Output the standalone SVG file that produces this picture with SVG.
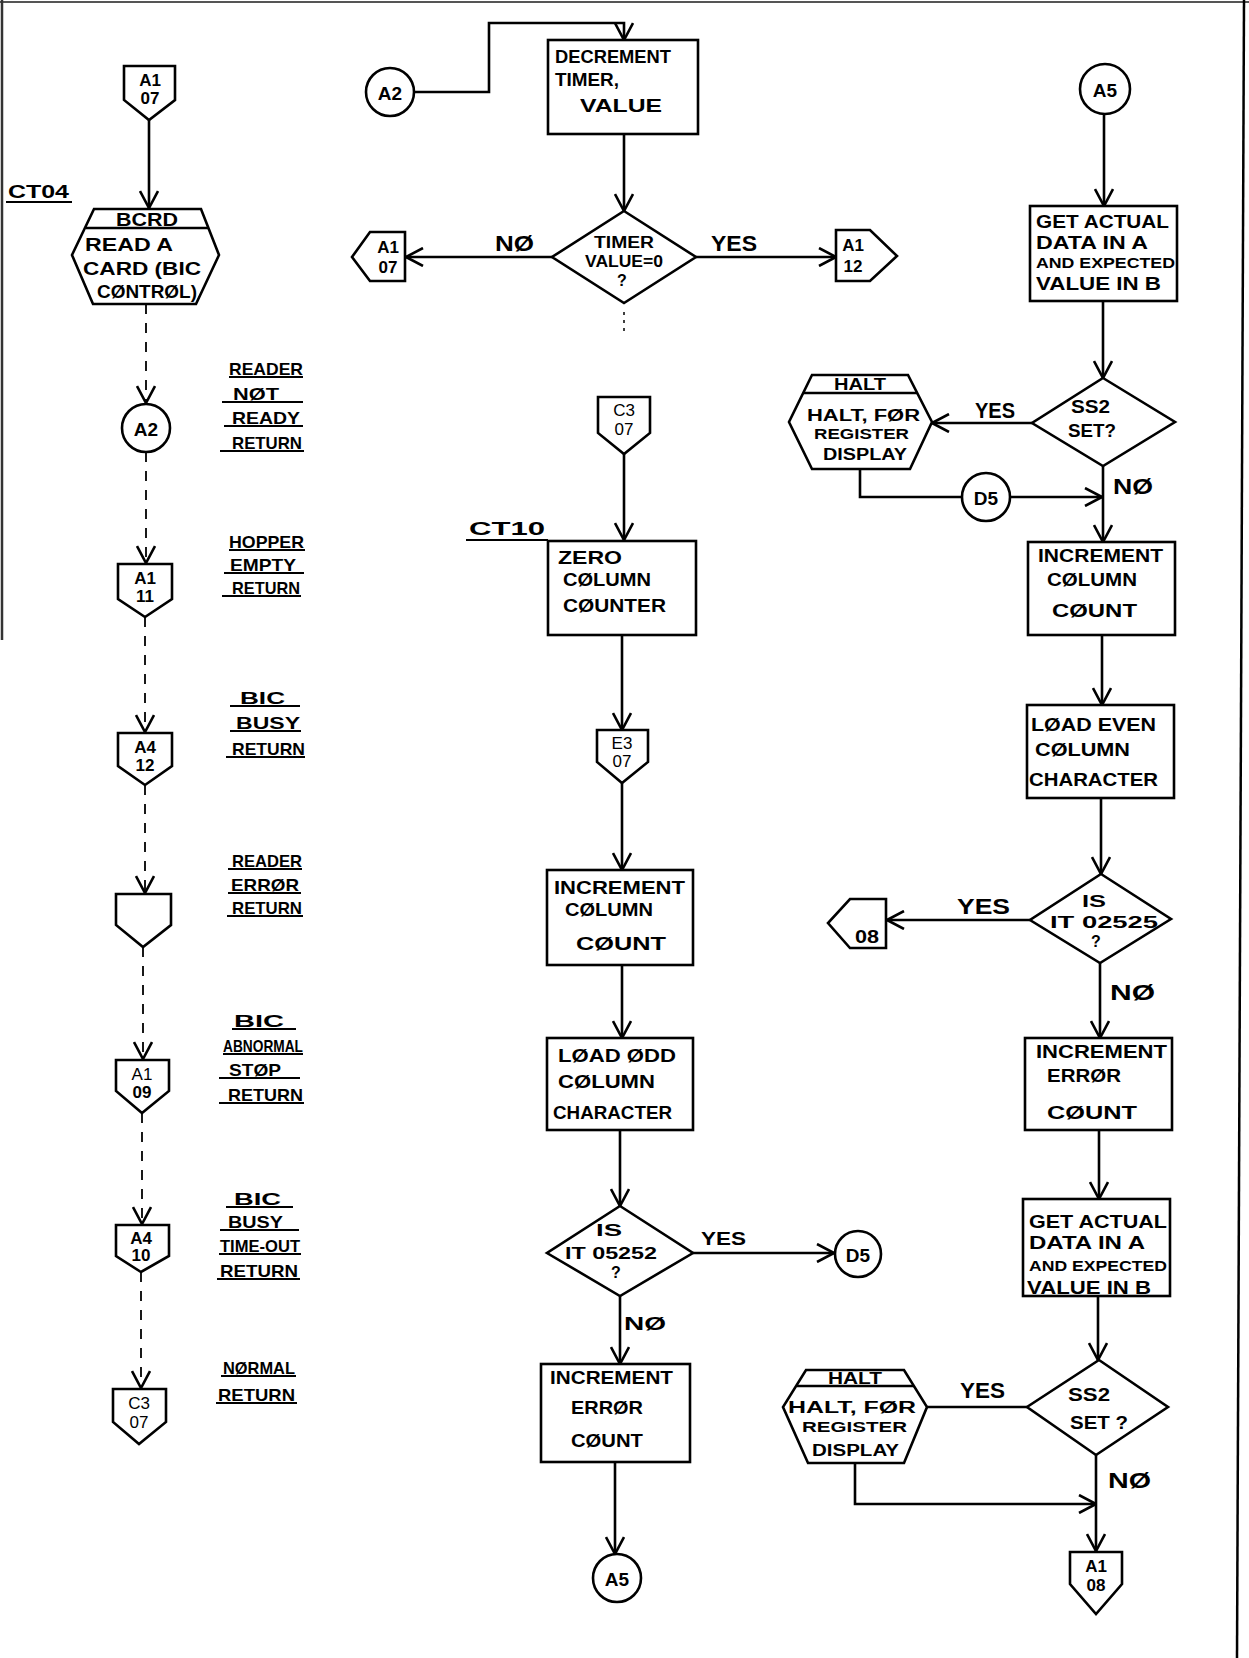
<svg xmlns="http://www.w3.org/2000/svg" width="1249" height="1658" viewBox="0 0 1249 1658">
<style>
.ln{stroke:#000;stroke-width:2.6;fill:none}
.dl{stroke:#000;stroke-width:1.8;fill:none;stroke-dasharray:10 9}
.sh{stroke:#000;stroke-width:2.6;fill:#fff}
.ul{stroke:#000;stroke-width:2;fill:none}
.t{font-family:"Liberation Sans",Arial,sans-serif;font-weight:bold;font-size:19px;fill:#000}
.m{text-anchor:middle}
.sm{font-size:14px}
.md{font-size:16px}
.lb{font-size:17px}
.big{font-size:22px}
.pc{font-size:17px}
.nw{font-weight:normal}
</style>
<defs>
<marker id="ah" markerUnits="userSpaceOnUse" viewBox="0 0 20 20" markerWidth="20" markerHeight="20" refX="19" refY="10" orient="auto">
<path d="M2,1 L19,10 L2,19" fill="none" stroke="#000" stroke-width="2.6" stroke-dasharray="none"/>
</marker>
</defs>
<rect width="1249" height="1658" fill="#fff"/>
<g id="border">
<path d="M0,2 H1249" stroke="#555" stroke-width="2" fill="none"/>
<path d="M2,0 V640" stroke="#333" stroke-width="2.5" fill="none"/>
<path d="M1244,0 L1237,1658" stroke="#000" stroke-width="2.5" fill="none"/>
</g>

<g id="connectors">
<path class="ln" d="M149,120 V208" marker-end="url(#ah)"/>
<path class="dl" d="M146,304 V403" marker-end="url(#ah)"/>
<path class="dl" d="M146,452 V563" marker-end="url(#ah)"/>
<path class="dl" d="M145,617 V732" marker-end="url(#ah)"/>
<path class="dl" d="M145,785 V893" marker-end="url(#ah)"/>
<path class="dl" d="M143,947 V1059" marker-end="url(#ah)"/>
<path class="dl" d="M142,1113 V1224" marker-end="url(#ah)"/>
<path class="dl" d="M141,1272 V1388" marker-end="url(#ah)"/>

<path class="ln" d="M414,92 H489 V23 H624 V40" marker-end="url(#ah)"/>
<path class="ln" d="M624,134 V211" marker-end="url(#ah)"/>
<path class="ln" d="M552,257 H406" marker-end="url(#ah)"/>
<path class="ln" d="M696,257 H836" marker-end="url(#ah)"/>
<path d="M624,312 V336" stroke="#000" stroke-width="1.5" stroke-dasharray="3 5" fill="none"/>
<path class="ln" d="M624,454 V540" marker-end="url(#ah)"/>
<path class="ln" d="M622,635 V730" marker-end="url(#ah)"/>
<path class="ln" d="M622,783 V870" marker-end="url(#ah)"/>
<path class="ln" d="M622,965 V1038" marker-end="url(#ah)"/>
<path class="ln" d="M620,1130 V1206" marker-end="url(#ah)"/>
<path class="ln" d="M693,1253 H834" marker-end="url(#ah)"/>
<path class="ln" d="M620,1296 V1364" marker-end="url(#ah)"/>
<path class="ln" d="M615,1462 V1554" marker-end="url(#ah)"/>

<path class="ln" d="M1104,114 V206" marker-end="url(#ah)"/>
<path class="ln" d="M1103,301 V378" marker-end="url(#ah)"/>
<path class="ln" d="M1032,423 H932" marker-end="url(#ah)"/>
<path class="ln" d="M860,469 V497 H962"/>
<path class="ln" d="M1010,497 H1102" marker-end="url(#ah)"/>
<path class="ln" d="M1103,466 V542" marker-end="url(#ah)"/>
<path class="ln" d="M1102,635 V705" marker-end="url(#ah)"/>
<path class="ln" d="M1101,798 V874" marker-end="url(#ah)"/>
<path class="ln" d="M1030,920 H887" marker-end="url(#ah)"/>
<path class="ln" d="M1100,963 V1038" marker-end="url(#ah)"/>
<path class="ln" d="M1099,1130 V1199" marker-end="url(#ah)"/>
<path class="ln" d="M1098,1296 V1360" marker-end="url(#ah)"/>
<path class="ln" d="M1027,1407 H927"/>
<path class="ln" d="M855,1463 V1504 H1096" marker-end="url(#ah)"/>
<path class="ln" d="M1096,1455 V1551" marker-end="url(#ah)"/>
</g>

<g id="labels">
<text class="t" x="8" y="198" textLength="61" lengthAdjust="spacingAndGlyphs">CT04</text>
<path class="ul" d="M6,202 H72"/>
<text class="t" x="469" y="535" textLength="76" lengthAdjust="spacingAndGlyphs">CT10</text>
<path class="ul" d="M466,540 H548"/>
<text class="t big" x="495" y="251" textLength="39" lengthAdjust="spacingAndGlyphs">NØ</text>
<text class="t big" x="711" y="251" textLength="46" lengthAdjust="spacingAndGlyphs">YES</text>
<text class="t big" x="975" y="418" textLength="40" lengthAdjust="spacingAndGlyphs">YES</text>
<text class="t big" x="1113" y="494" textLength="40" lengthAdjust="spacingAndGlyphs">NØ</text>
<text class="t big" x="957" y="914" textLength="53" lengthAdjust="spacingAndGlyphs">YES</text>
<text class="t big" x="1110" y="1000" textLength="45" lengthAdjust="spacingAndGlyphs">NØ</text>
<text class="t" x="701" y="1245" textLength="45" lengthAdjust="spacingAndGlyphs">YES</text>
<text class="t" x="624" y="1330" textLength="42" lengthAdjust="spacingAndGlyphs">NØ</text>
<text class="t big" x="960" y="1398" textLength="45" lengthAdjust="spacingAndGlyphs">YES</text>
<text class="t big" x="1108" y="1488" textLength="43" lengthAdjust="spacingAndGlyphs">NØ</text>
</g>

<g id="returns">
<text class="t lb" x="229" y="375" textLength="74" lengthAdjust="spacingAndGlyphs">READER</text>
<text class="t lb" x="233" y="400" textLength="46" lengthAdjust="spacingAndGlyphs">NØT</text>
<text class="t lb" x="232" y="424" textLength="68" lengthAdjust="spacingAndGlyphs">READY</text>
<text class="t lb" x="232" y="449" textLength="70" lengthAdjust="spacingAndGlyphs">RETURN</text>
<path class="ul" d="M229,377 H303 M222,402 H303 M224,426 H303 M220,451 H304"/>

<text class="t lb" x="229" y="548" textLength="75" lengthAdjust="spacingAndGlyphs">HOPPER</text>
<text class="t lb" x="230" y="571" textLength="66" lengthAdjust="spacingAndGlyphs">EMPTY</text>
<text class="t lb" x="232" y="594" textLength="68" lengthAdjust="spacingAndGlyphs">RETURN</text>
<path class="ul" d="M229,550 H305 M224,573 H304 M222,596 H301"/>

<text class="t lb" x="240" y="704" textLength="45" lengthAdjust="spacingAndGlyphs">BIC</text>
<text class="t lb" x="236" y="729" textLength="64" lengthAdjust="spacingAndGlyphs">BUSY</text>
<text class="t lb" x="232" y="755" textLength="73" lengthAdjust="spacingAndGlyphs">RETURN</text>
<path class="ul" d="M230,706 H300 M230,731 H301 M226,757 H305"/>

<text class="t lb" x="232" y="867" textLength="70" lengthAdjust="spacingAndGlyphs">READER</text>
<text class="t lb" x="231" y="891" textLength="68" lengthAdjust="spacingAndGlyphs">ERRØR</text>
<text class="t lb" x="232" y="914" textLength="70" lengthAdjust="spacingAndGlyphs">RETURN</text>
<path class="ul" d="M228,869 H302 M228,893 H301 M227,916 H303"/>

<text class="t lb" x="234" y="1027" textLength="50" lengthAdjust="spacingAndGlyphs">BIC</text>
<text class="t lb" x="223" y="1052" textLength="80" lengthAdjust="spacingAndGlyphs">ABNORMAL</text>
<text class="t lb" x="229" y="1076" textLength="52" lengthAdjust="spacingAndGlyphs">STØP</text>
<text class="t lb" x="228" y="1101" textLength="75" lengthAdjust="spacingAndGlyphs">RETURN</text>
<path class="ul" d="M232,1029 H296 M223,1054 H303 M219,1078 H300 M219,1103 H304"/>

<text class="t lb" x="234" y="1205" textLength="47" lengthAdjust="spacingAndGlyphs">BIC</text>
<text class="t lb" x="228" y="1228" textLength="55" lengthAdjust="spacingAndGlyphs">BUSY</text>
<text class="t lb" x="220" y="1252" textLength="80" lengthAdjust="spacingAndGlyphs">TIME-OUT</text>
<text class="t lb" x="220" y="1277" textLength="78" lengthAdjust="spacingAndGlyphs">RETURN</text>
<path class="ul" d="M226,1207 H293 M220,1230 H299 M219,1254 H301 M217,1279 H300"/>

<text class="t lb" x="223" y="1374" textLength="72" lengthAdjust="spacingAndGlyphs">NØRMAL</text>
<text class="t lb" x="218" y="1401" textLength="77" lengthAdjust="spacingAndGlyphs">RETURN</text>
<path class="ul" d="M221,1376 H296 M216,1403 H297"/>
</g>

<g id="n_a1_07_top">
<polygon class="sh" points="124,66 175,66 175,100 149,120 124,100"/>
<text class="t m pc" x="150" y="86">A1</text>
<text class="t m pc" x="150" y="104">07</text>
</g>
<g id="n_bcrd">
<polygon class="sh" points="94,209 201,209 219,255 196,304 93,304 72,255"/>
<path class="ln" d="M86,228 H208"/>
<text class="t m" x="147" y="226" textLength="62" lengthAdjust="spacingAndGlyphs">BCRD</text>
<text class="t" x="85" y="251" textLength="88" lengthAdjust="spacingAndGlyphs">READ A</text>
<text class="t" x="83" y="275" textLength="118" lengthAdjust="spacingAndGlyphs">CARD (BIC</text>
<text class="t" x="97" y="298" textLength="100" lengthAdjust="spacingAndGlyphs">CØNTRØL)</text>
</g>
<g id="n_a2_left">
<circle class="sh" cx="146" cy="428" r="24"/>
<text class="t m" x="146" y="436">A2</text>
</g>
<g id="n_a1_11">
<polygon class="sh" points="118,564 172,564 172,599 145,617 118,599"/>
<text class="t m pc" x="145" y="584">A1</text>
<text class="t m pc" x="145" y="602">11</text>
</g>
<g id="n_a4_12">
<polygon class="sh" points="118,733 172,733 172,766 145,785 118,766"/>
<text class="t m pc" x="145" y="753">A4</text>
<text class="t m pc" x="145" y="771">12</text>
</g>
<g id="n_blank">
<polygon class="sh" points="116,894 171,894 171,925 143,947 116,925"/>
</g>
<g id="n_a1_09">
<polygon class="sh" points="116,1060 169,1060 169,1091 142,1113 116,1091"/>
<text class="t m pc nw" x="142" y="1080">A1</text>
<text class="t m pc" x="142" y="1098">09</text>
</g>
<g id="n_a4_10">
<polygon class="sh" points="116,1225 169,1225 169,1256 141,1272 116,1256"/>
<text class="t m pc" x="141" y="1244">A4</text>
<text class="t m pc" x="141" y="1261">10</text>
</g>
<g id="n_c3_07_left">
<polygon class="sh" points="113,1389 166,1389 166,1422 139,1444 113,1422"/>
<text class="t m pc nw" x="139" y="1409">C3</text>
<text class="t m pc nw" x="139" y="1428">07</text>
</g>

<g id="n_a2_mid">
<circle class="sh" cx="390" cy="92" r="24"/>
<text class="t m" x="390" y="100">A2</text>
</g>
<g id="n_decrement">
<rect class="sh" x="548" y="40" width="150" height="94"/>
<text class="t" x="555" y="63" textLength="116" lengthAdjust="spacingAndGlyphs">DECREMENT</text>
<text class="t" x="555" y="86" textLength="64" lengthAdjust="spacingAndGlyphs">TIMER,</text>
<text class="t" x="580" y="112" textLength="82" lengthAdjust="spacingAndGlyphs">VALUE</text>
</g>
<g id="n_timer_zero">
<polygon class="sh" points="624,211 696,257 624,303 552,257"/>
<text class="t md" x="594" y="248" textLength="60" lengthAdjust="spacingAndGlyphs">TIMER</text>
<text class="t md" x="585" y="267" textLength="78" lengthAdjust="spacingAndGlyphs">VALUE=0</text>
<text class="t m md" x="622" y="286">?</text>
</g>
<g id="n_a1_07_mid">
<polygon class="sh" points="405,232 405,281 370,281 352,257 370,232"/>
<text class="t m pc" x="388" y="253">A1</text>
<text class="t m pc" x="388" y="273">07</text>
</g>
<g id="n_a1_12">
<polygon class="sh" points="836,230 870,230 897,256 870,281 836,281"/>
<text class="t m pc" x="853" y="251">A1</text>
<text class="t m pc" x="853" y="272">12</text>
</g>
<g id="n_c3_07_mid">
<polygon class="sh" points="598,397 650,397 650,433 624,454 598,433"/>
<text class="t m pc nw" x="624" y="416">C3</text>
<text class="t m pc nw" x="624" y="435">07</text>
</g>
<g id="n_zero">
<rect class="sh" x="548" y="541" width="148" height="94"/>
<text class="t" x="558" y="564" textLength="64" lengthAdjust="spacingAndGlyphs">ZERO</text>
<text class="t" x="563" y="586" textLength="88" lengthAdjust="spacingAndGlyphs">CØLUMN</text>
<text class="t" x="563" y="612" textLength="103" lengthAdjust="spacingAndGlyphs">CØUNTER</text>
</g>
<g id="n_e3_07">
<polygon class="sh" points="597,730 648,730 648,762 622,783 597,762"/>
<text class="t m pc nw" x="622" y="749">E3</text>
<text class="t m pc nw" x="622" y="767">07</text>
</g>
<g id="n_inc_col_mid">
<rect class="sh" x="547" y="870" width="146" height="95"/>
<text class="t" x="554" y="894" textLength="131" lengthAdjust="spacingAndGlyphs">INCREMENT</text>
<text class="t" x="565" y="916" textLength="88" lengthAdjust="spacingAndGlyphs">CØLUMN</text>
<text class="t" x="576" y="950" textLength="90" lengthAdjust="spacingAndGlyphs">CØUNT</text>
</g>
<g id="n_load_odd">
<rect class="sh" x="547" y="1038" width="146" height="92"/>
<text class="t" x="558" y="1062" textLength="118" lengthAdjust="spacingAndGlyphs">LØAD ØDD</text>
<text class="t" x="558" y="1088" textLength="97" lengthAdjust="spacingAndGlyphs">CØLUMN</text>
<text class="t" x="553" y="1119" textLength="119" lengthAdjust="spacingAndGlyphs">CHARACTER</text>
</g>
<g id="n_is_05252">
<polygon class="sh" points="620,1206 693,1253 620,1296 547,1253"/>
<text class="t md" x="596" y="1236" textLength="26" lengthAdjust="spacingAndGlyphs">IS</text>
<text class="t md" x="565" y="1259" textLength="92" lengthAdjust="spacingAndGlyphs">IT 05252</text>
<text class="t m md" x="616" y="1278">?</text>
</g>
<g id="n_d5_mid">
<circle class="sh" cx="858" cy="1254" r="23"/>
<text class="t m" x="858" y="1262">D5</text>
</g>
<g id="n_inc_err_mid">
<rect class="sh" x="541" y="1364" width="149" height="98"/>
<text class="t" x="550" y="1384" textLength="123" lengthAdjust="spacingAndGlyphs">INCREMENT</text>
<text class="t" x="571" y="1414" textLength="72" lengthAdjust="spacingAndGlyphs">ERRØR</text>
<text class="t" x="571" y="1447" textLength="72" lengthAdjust="spacingAndGlyphs">CØUNT</text>
</g>
<g id="n_a5_mid">
<circle class="sh" cx="617" cy="1578" r="24"/>
<text class="t m" x="617" y="1586">A5</text>
</g>

<g id="n_a5_right">
<circle class="sh" cx="1105" cy="89" r="25"/>
<text class="t m" x="1105" y="97">A5</text>
</g>
<g id="n_get_actual_1">
<rect class="sh" x="1030" y="206" width="147" height="95"/>
<text class="t" x="1036" y="228" textLength="133" lengthAdjust="spacingAndGlyphs">GET ACTUAL</text>
<text class="t" x="1036" y="249" textLength="112" lengthAdjust="spacingAndGlyphs">DATA IN A</text>
<text class="t sm" x="1036" y="268" textLength="139" lengthAdjust="spacingAndGlyphs">AND EXPECTED</text>
<text class="t" x="1036" y="290" textLength="125" lengthAdjust="spacingAndGlyphs">VALUE IN B</text>
</g>
<g id="n_ss2_1">
<polygon class="sh" points="1103,378 1175,422 1103,466 1032,423"/>
<text class="t" x="1071" y="413" textLength="39" lengthAdjust="spacingAndGlyphs">SS2</text>
<text class="t" x="1068" y="437" textLength="48" lengthAdjust="spacingAndGlyphs">SET?</text>
</g>
<g id="n_halt_1">
<polygon class="sh" points="812,375 908,375 932,422 910,469 812,469 789,422"/>
<path class="ln" d="M803,393 H917"/>
<text class="t m md" x="860" y="390" textLength="52" lengthAdjust="spacingAndGlyphs">HALT</text>
<text class="t md" x="807" y="421" textLength="113" lengthAdjust="spacingAndGlyphs">HALT, FØR</text>
<text class="t sm" x="814" y="439" textLength="95" lengthAdjust="spacingAndGlyphs">REGISTER</text>
<text class="t md" x="823" y="460" textLength="84" lengthAdjust="spacingAndGlyphs">DISPLAY</text>
</g>
<g id="n_d5_right">
<circle class="sh" cx="986" cy="497" r="24"/>
<text class="t m" x="986" y="505">D5</text>
</g>
<g id="n_inc_col_right">
<rect class="sh" x="1028" y="542" width="147" height="93"/>
<text class="t" x="1038" y="562" textLength="125" lengthAdjust="spacingAndGlyphs">INCREMENT</text>
<text class="t" x="1047" y="586" textLength="90" lengthAdjust="spacingAndGlyphs">CØLUMN</text>
<text class="t" x="1052" y="617" textLength="85" lengthAdjust="spacingAndGlyphs">CØUNT</text>
</g>
<g id="n_load_even">
<rect class="sh" x="1027" y="705" width="147" height="93"/>
<text class="t" x="1031" y="731" textLength="125" lengthAdjust="spacingAndGlyphs">LØAD EVEN</text>
<text class="t" x="1035" y="756" textLength="95" lengthAdjust="spacingAndGlyphs">CØLUMN</text>
<text class="t" x="1029" y="786" textLength="129" lengthAdjust="spacingAndGlyphs">CHARACTER</text>
</g>
<g id="n_is_02525">
<polygon class="sh" points="1101,874 1171,919 1100,963 1030,920"/>
<text class="t md" x="1082" y="907" textLength="24" lengthAdjust="spacingAndGlyphs">IS</text>
<text class="t md" x="1050" y="928" textLength="108" lengthAdjust="spacingAndGlyphs">IT 02525</text>
<text class="t m md" x="1096" y="947">?</text>
</g>
<g id="n_08">
<polygon class="sh" points="886,899 886,948 850,948 828,923 850,899"/>
<text class="t" x="855" y="943" textLength="24" lengthAdjust="spacingAndGlyphs">08</text>
</g>
<g id="n_inc_err_right">
<rect class="sh" x="1025" y="1038" width="147" height="92"/>
<text class="t" x="1036" y="1058" textLength="131" lengthAdjust="spacingAndGlyphs">INCREMENT</text>
<text class="t" x="1047" y="1082" textLength="74" lengthAdjust="spacingAndGlyphs">ERRØR</text>
<text class="t" x="1047" y="1119" textLength="90" lengthAdjust="spacingAndGlyphs">CØUNT</text>
</g>
<g id="n_get_actual_2">
<rect class="sh" x="1023" y="1199" width="147" height="97"/>
<text class="t" x="1029" y="1228" textLength="138" lengthAdjust="spacingAndGlyphs">GET ACTUAL</text>
<text class="t" x="1029" y="1249" textLength="116" lengthAdjust="spacingAndGlyphs">DATA IN A</text>
<text class="t sm" x="1029" y="1271" textLength="138" lengthAdjust="spacingAndGlyphs">AND EXPECTED</text>
<text class="t" x="1027" y="1294" textLength="124" lengthAdjust="spacingAndGlyphs">VALUE IN B</text>
</g>
<g id="n_ss2_2">
<polygon class="sh" points="1099,1360 1168,1407 1096,1455 1027,1407"/>
<text class="t" x="1068" y="1401" textLength="42" lengthAdjust="spacingAndGlyphs">SS2</text>
<text class="t" x="1070" y="1429" textLength="58" lengthAdjust="spacingAndGlyphs">SET ?</text>
</g>
<g id="n_halt_2">
<polygon class="sh" points="806,1370 904,1370 927,1407 904,1463 808,1463 783,1407"/>
<path class="ln" d="M797,1386 H914"/>
<text class="t m md" x="855" y="1384" textLength="54" lengthAdjust="spacingAndGlyphs">HALT</text>
<text class="t md" x="788" y="1413" textLength="128" lengthAdjust="spacingAndGlyphs">HALT, FØR</text>
<text class="t sm" x="802" y="1432" textLength="105" lengthAdjust="spacingAndGlyphs">REGISTER</text>
<text class="t md" x="812" y="1456" textLength="87" lengthAdjust="spacingAndGlyphs">DISPLAY</text>
</g>
<g id="n_a1_08">
<polygon class="sh" points="1070,1552 1122,1552 1122,1584 1096,1614 1070,1584"/>
<text class="t m pc" x="1096" y="1572">A1</text>
<text class="t m pc" x="1096" y="1591">08</text>
</g>
</svg>
